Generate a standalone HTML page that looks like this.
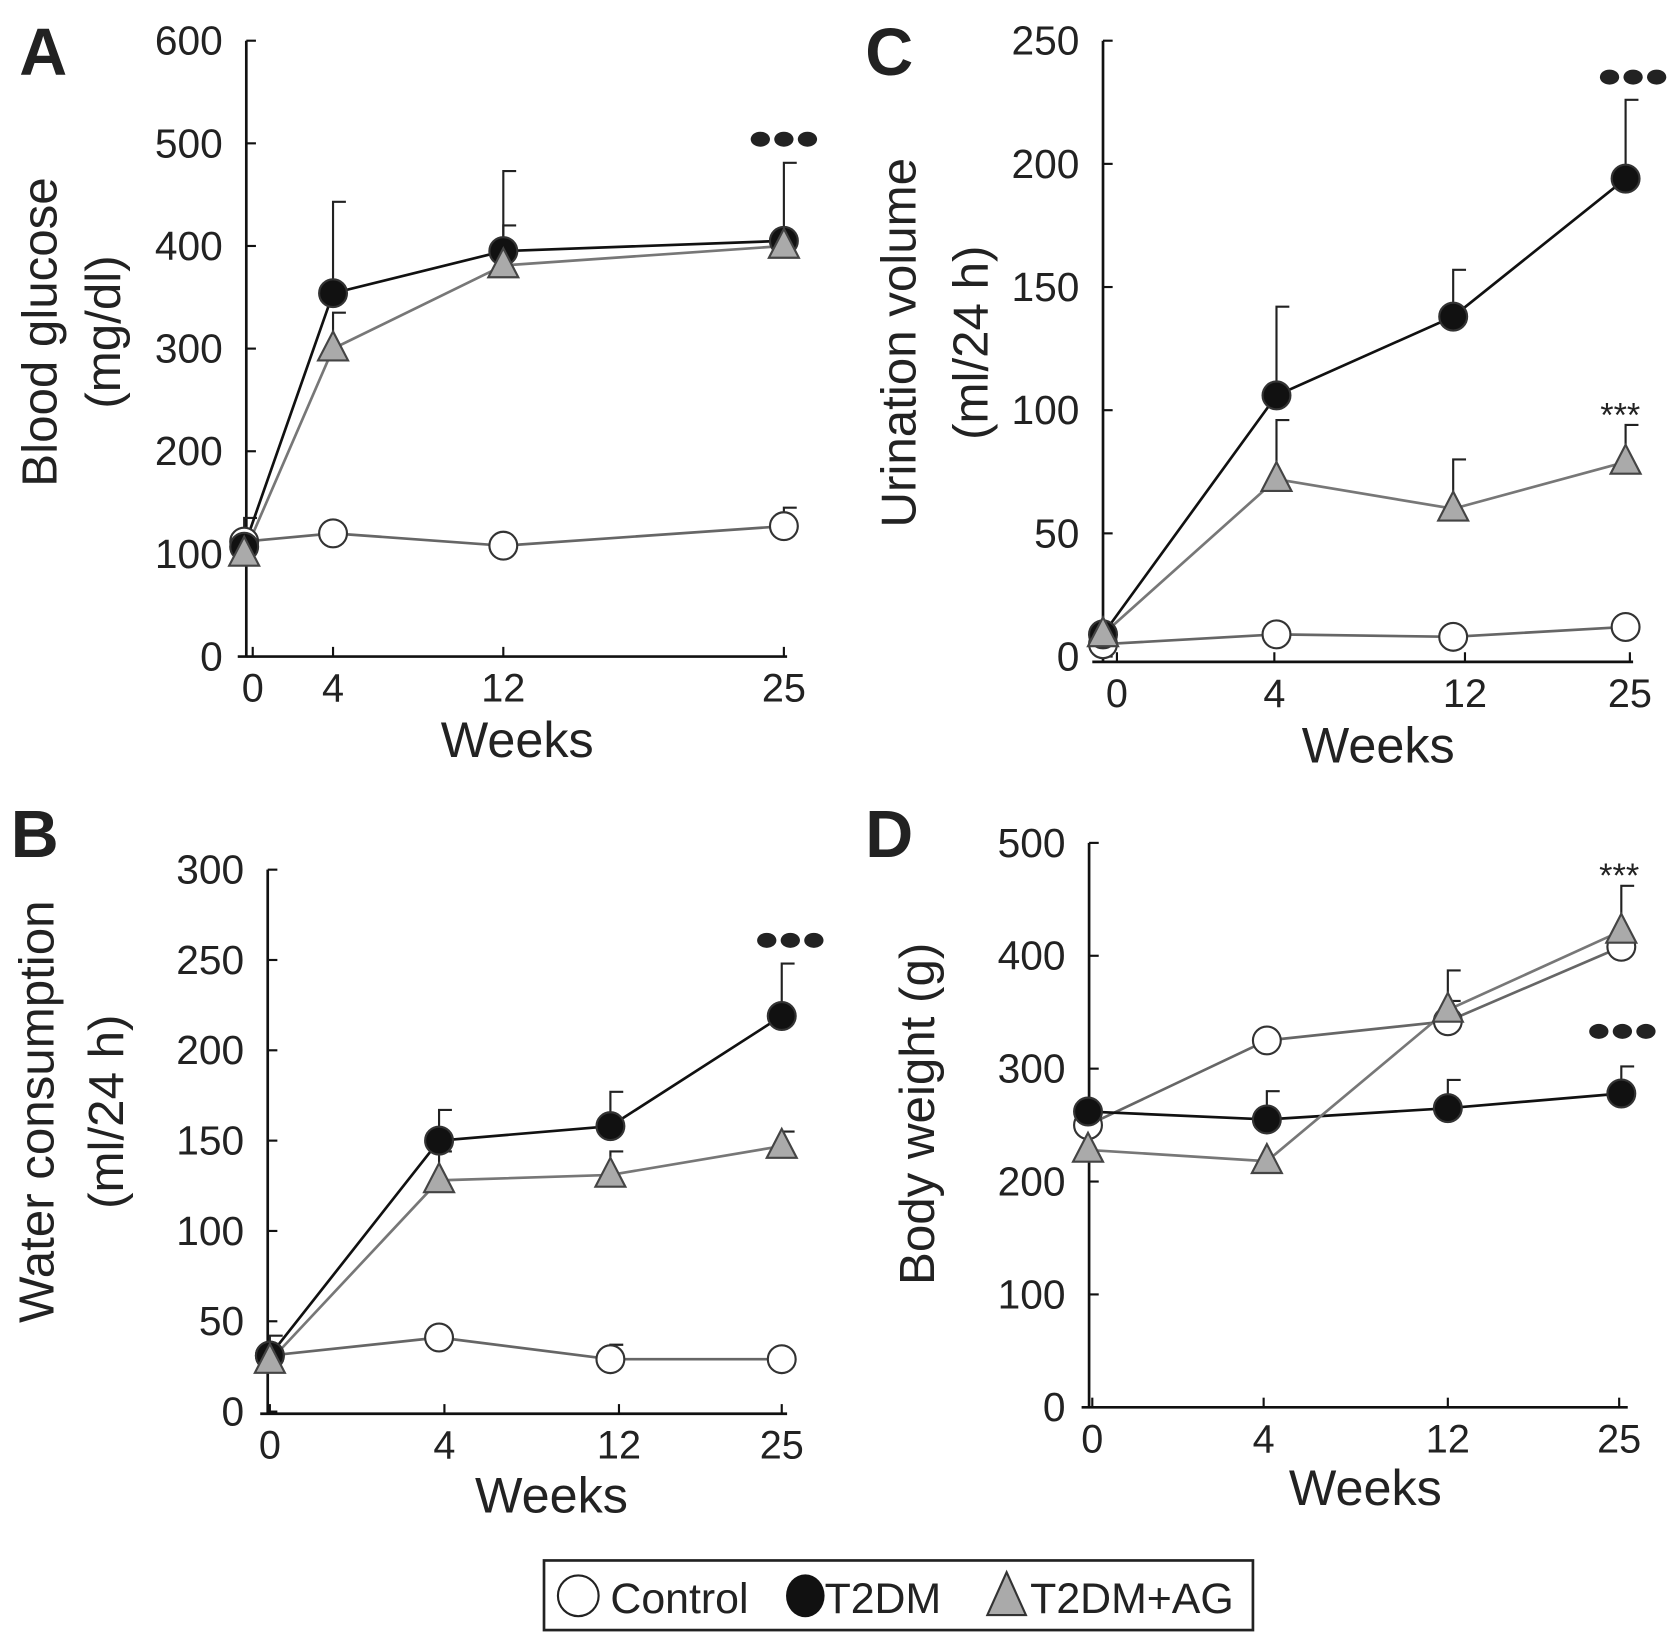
<!DOCTYPE html>
<html><head><meta charset="utf-8"><style>
html,body{margin:0;padding:0;background:#fff;}
svg{display:block;}
text{font-family:"Liberation Sans",Arial,sans-serif;fill:#222;}
</style></head><body>
<svg id="fig" width="1677" height="1644" viewBox="0 0 1566 1535" preserveAspectRatio="none"></svg>
<script>
const weeks = [0, 4, 12, 25];
const tickLabelsWeeks = ["0", "4", "12", "25"];
// Panel A: blood glucose
const aControl = [112, 120, 108, 127];
const aControlErr = [135, null, null, 145];
const aT2DM = [107, 354, 395, 405];
const aT2DMErr = [null, 443, 473, 481];
const aAG = [100, 300, 381, 400];
const aAGErr = [null, 335, 420, 410];
const aTicks = [0, 100, 200, 300, 400, 500, 600];
// Panel B: water consumption
const bControl = [31, 41, 29, 29];
const bControlErr = [42, null, 37, null];
const bT2DM = [31, 150, 158, 219];
const bT2DMErr = [null, 167, 177, 248];
const bAG = [28, 128, 131, 147];
const bAGErr = [null, 144, 144, 155];
const bTicks = [0, 50, 100, 150, 200, 250, 300];
// Panel C: urination volume
const cControl = [5, 9, 8, 12];
const cControlErr = [null, null, null, null];
const cT2DM = [9, 106, 138, 194];
const cT2DMErr = [null, 142, 157, 226];
const cAG = [9, 72, 60, 79];
const cAGErr = [null, 96, 80, 94];
const cTicks = [0, 50, 100, 150, 200, 250];
// Panel D: body weight
const dControl = [250, 325, 342, 408];
const dControlErr = [null, null, 360, null];
const dT2DM = [262, 255, 265, 278];
const dT2DMErr = [null, 280, 290, 302];
const dAG = [228, 218, 352, 422];
const dAGErr = [null, null, 387, 462];
const dTicks = [0, 100, 200, 300, 400, 500];

const NS = "http://www.w3.org/2000/svg";
const svg = document.getElementById("fig");
function el(tag, attrs, parent, txt) {
  const e = document.createElementNS(NS, tag);
  for (const k in attrs) e.setAttribute(k, attrs[k]);
  if (txt !== undefined) e.textContent = txt;
  (parent || svg).appendChild(e);
  return e;
}

const panels = [
  {id:"a", letter:"A", lx:18, ly:70, ax:230, y0:613, ytop:38, max:600, ticks:aTicks,
   xAxisY:613, xStart:222, xEnd:735, xPos:[236,311,470,732], markX:[228,311,470,732],
   ctl:aControl, ctlE:aControlErr, t2:aT2DM, t2E:aT2DMErr, ag:aAG, agE:aAGErr,
   title:["Blood glucose","(mg/dl)"], tx:[53,112], tcy:310, weeksX:483, weeksY:707,
   dots:{x:732,y:130}, stars:null},
  {id:"c", letter:"C", lx:808, ly:70, ax:1030, y0:613, ytop:38, max:250, ticks:cTicks,
   xAxisY:618, xStart:1020, xEnd:1525, xPos:[1043,1190,1368,1522], markX:[1030,1192,1357,1518],
   ctl:cControl, ctlE:cControlErr, t2:cT2DM, t2E:cT2DMErr, ag:cAG, agE:cAGErr,
   title:["Urination volume","(ml/24 h)"], tx:[855,922], tcy:320, weeksX:1287, weeksY:712,
   dots:{x:1525,y:72}, stars:{x:1513,y:398}},
  {id:"b", letter:"B", lx:10, ly:800, ax:250, y0:1318, ytop:812, max:300, ticks:bTicks,
   xAxisY:1320, xStart:243, xEnd:735, xPos:[252,415,578,730], markX:[252,410,570,730],
   ctl:bControl, ctlE:bControlErr, t2:bT2DM, t2E:bT2DMErr, ag:bAG, agE:bAGErr,
   title:["Water consumption","(ml/24 h)"], tx:[50,115], tcy:1038, weeksX:515, weeksY:1412,
   dots:{x:738,y:878}, stars:null},
  {id:"d", letter:"D", lx:808, ly:800, ax:1017, y0:1314, ytop:787, max:500, ticks:dTicks,
   xAxisY:1314, xStart:1010, xEnd:1520, xPos:[1020,1180,1352,1512], markX:[1016,1183,1352,1514],
   ctl:dControl, ctlE:dControlErr, t2:dT2DM, t2E:dT2DMErr, ag:dAG, agE:dAGErr,
   title:["Body weight (g)"], tx:[872], tcy:1040, weeksX:1275, weeksY:1405,
   dots:{x:1515,y:963}, stars:{x:1512,y:828}}
];

panels.forEach(p => {
  const g = el("g", {});
  
  
  const yS = v => p.y0 - (v / p.max) * (p.y0 - p.ytop);
  const xS = i => p.markX[i];
  const L = el("text", {x:p.lx, y:p.ly, "font-size":62, "font-weight":"bold", fill:"#111"}, g, p.letter);
  
  
  const ya = el("line", {x1:p.ax, y1:p.ytop, x2:p.ax, y2:p.xAxisY, stroke:"#111", "stroke-width":2.5}, g);
  
  
  p.ticks.forEach(t => {
    const y = yS(t);
    el("line", {x1:p.ax, y1:y, x2:p.ax + 9, y2:y, stroke:"#111", "stroke-width":2}, g);
    const tl = el("text", {x:p.ax - 22, y:y + 13, "font-size":38, "text-anchor":"end", fill:"#444"}, g, String(t));
    
    
  });
  const xa = el("line", {x1:p.xStart, y1:p.xAxisY, x2:p.xEnd, y2:p.xAxisY, stroke:"#111", "stroke-width":2.5}, g);
  
  
  weeks.forEach((w, i) => {
    const x = p.xPos[i];
    el("line", {x1:x, y1:p.xAxisY, x2:x, y2:p.xAxisY - 9, stroke:"#111", "stroke-width":2}, g);
    const tl = el("text", {x:x, y:p.xAxisY + 42, "font-size":37, "text-anchor":"middle", fill:"#444"}, g, tickLabelsWeeks[i]);
    
    
  });
  const wt = el("text", {x:p.weeksX, y:p.weeksY, "font-size":47, "text-anchor":"middle", fill:"#333"}, g, "Weeks");
  
  
  p.title.forEach((t, k) => {
    const yt = el("text", {x:p.tx[k], y:p.tcy, "font-size":46, "text-anchor":"middle", transform:`rotate(-90 ${p.tx[k]} ${p.tcy})`, fill:"#333"}, g, t);
    
    
  });
  const series = [
    {name:"control", vals:p.ctl, err:p.ctlE, line:"#666", kind:"circle", fill:"#fff"},
    {name:"t2dm", vals:p.t2, err:p.t2E, line:"#111", kind:"dot", fill:"#111"},
    {name:"t2dm-ag", vals:p.ag, err:p.agE, line:"#777", kind:"tri", fill:"#aaa"}
  ];
  series.forEach(s => {
    s.err.forEach((e, i) => {
      if (e === null) return;
      const x = xS(i);
      const eb = el("path", {d:`M${x} ${yS(s.vals[i])} V${yS(e)} M${x - 1} ${yS(e)} H${x + 12}`, stroke:"#222", "stroke-width":2, fill:"none"}, g);
      
      
    });
  });
  series.forEach(s => {
    const pts = s.vals.map((v, i) => xS(i) + "," + yS(v)).join(" ");
    const pl = el("polyline", {points:pts, fill:"none", stroke:s.line, "stroke-width":2.5}, g);
    
    
  });
  series.forEach(s => {
    s.vals.forEach((v, i) => {
      const x = xS(i), y = yS(v);
      let m;
      if (s.kind === "tri") m = el("polygon", {points:`${x},${y - 16} ${x - 14},${y + 11} ${x + 14},${y + 11}`, fill:s.fill, stroke:"#444", "stroke-width":2}, g);
      else m = el("circle", {cx:x, cy:y, r:13, fill:s.fill, stroke:"#333", "stroke-width":2}, g);
      
      
    });
  });
  [-22, 0, 22].forEach(dx => {
    const d = el("ellipse", {cx:p.dots.x + dx, cy:p.dots.y, rx:9, ry:7, fill:"#222"}, g);
    
    
  });
  if (p.stars) {
    const st = el("text", {x:p.stars.x, y:p.stars.y, "font-size":32, "text-anchor":"middle", fill:"#222"}, g, "***");
    
    
  }
});

const lg = el("g", {});


el("rect", {x:508, y:1457, width:662, height:65, fill:"#fff", stroke:"#222", "stroke-width":2.5}, lg);
const e1 = el("circle", {cx:540, cy:1490, r:19, fill:"#fff", stroke:"#222", "stroke-width":2}, lg);


const t1 = el("text", {x:570, y:1506, "font-size":40, fill:"#333"}, lg, "Control");


const e2 = el("ellipse", {cx:752, cy:1490, rx:18, ry:20, fill:"#111"}, lg);


const t2 = el("text", {x:770, y:1506, "font-size":40, fill:"#333"}, lg, "T2DM");


const e3 = el("polygon", {points:"940,1468 922,1508 958,1508", fill:"#aaa", stroke:"#333", "stroke-width":2}, lg);


const t3 = el("text", {x:962, y:1506, "font-size":40, fill:"#333"}, lg, "T2DM+AG");


</script>
</body></html>
